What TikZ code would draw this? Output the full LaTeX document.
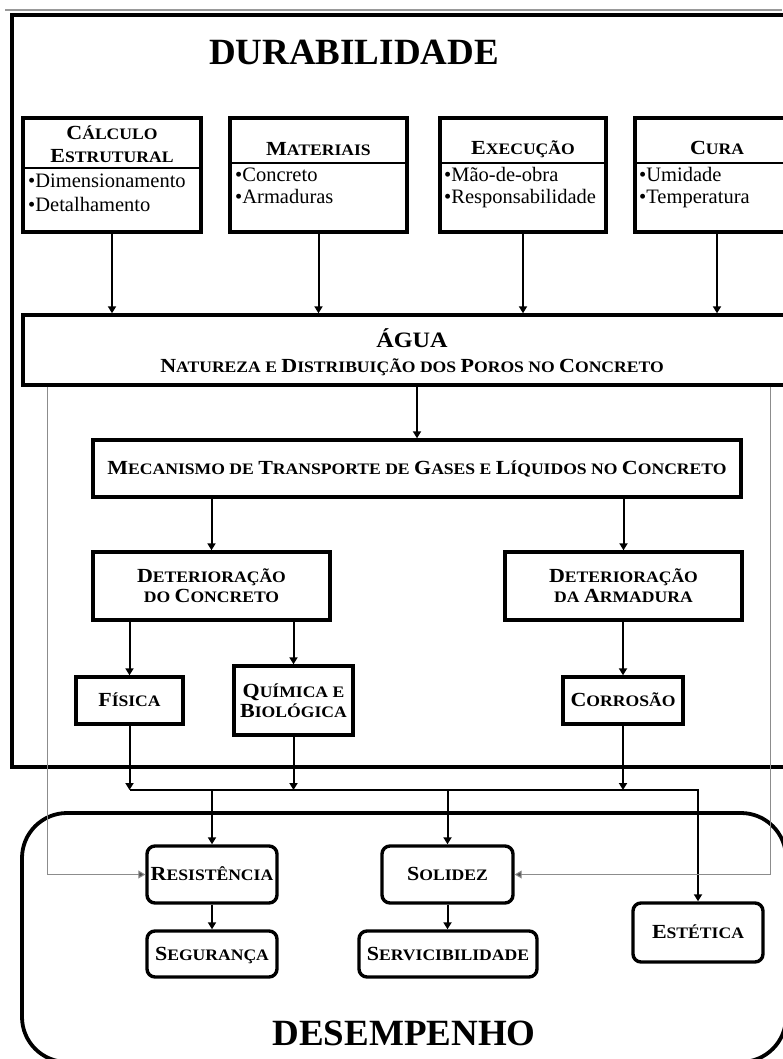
\documentclass[tikz,border=0pt]{standalone}
\usepackage{fontspec}
\setmainfont{Liberation Serif}
\newfontfamily\scb[FakeStretch=1.1]{Liberation Serif}
\usetikzlibrary{arrows.meta}
% larger initial capital for the hand-made small caps
\newcommand\Ini[1]{{\fontsize{20}{20}\selectfont #1}}
\tikzset{
  frame/.style={line width=3.8pt},
  box/.style={draw, line width=3.4pt, inner sep=0pt},
  rbox/.style={box, rounded corners=8pt},
  sctext/.style={inner sep=0pt, font=\scb\bfseries\fontsize{16}{20}\selectfont, align=center},
  lab/.style={sctext, text height=12pt, text depth=0pt},
  item/.style={inner sep=0pt, anchor=base west, font=\fontsize{20.5}{24}\selectfont},
  title/.style={inner sep=0pt, font=\bfseries\fontsize{37}{40}\selectfont},
  rule/.style={line width=2.2pt},
  conn/.style={line width=2pt},
  arr/.style={conn, -{Triangle[length=7pt,width=8pt]}},
  garr/.style={line width=1pt, draw=black!45, -{Triangle[length=7pt,width=8pt,fill=black!70]}},
}
\begin{document}
\begin{tikzpicture}[x=1pt,y=-1pt]
\useasboundingbox (0,0) rectangle (782,1059);
\fill[white] (0,0) rectangle (782,1059);

% outer frames
\draw[black!40, line width=2pt] (5,10) -- (782,10);
\draw[frame] (12,15) rectangle (812,767);
\draw[frame, rounded corners=45pt] (22,813) rectangle (786,1062);
\node[title] (tdur) at (354,52.5) {DURABILIDADE};
\node[title] (tdes) at (404,1033) {DESEMPENHO};

% factor boxes
\node[box, minimum width=178pt, minimum height=114pt] (calc) at (112,175) {};
\node[box, minimum width=177pt, minimum height=114pt] (mat) at (318.5,175) {};
\node[box, minimum width=166pt, minimum height=114pt] (exe) at (523,175) {};
\node[box, minimum width=164pt, minimum height=114pt] (cura) at (717,175) {};
\draw[rule] (calc.west |- 0,168) -- (calc.east |- 0,168);
\draw[rule] (mat.west |- 0,163) -- (mat.east |- 0,163);
\draw[rule] (exe.west |- 0,163) -- (exe.east |- 0,163);
\draw[rule] (cura.west |- 0,163) -- (cura.east |- 0,163);

\node[sctext, anchor=base] (calc-h1) at (112,140) {\Ini{C}ÁLCULO};
\node[sctext, anchor=base] (calc-h2) at (112,163) {\Ini{E}STRUTURAL};
\node[sctext, anchor=base] (mat-h) at (318.5,156) {\Ini{M}ATERIAIS};
\node[sctext, anchor=base] (exe-h) at (523,155) {\Ini{E}XECUÇÃO};
\node[sctext, anchor=base] (cura-h) at (717,155) {\Ini{C}URA};

\node[item] (calc-i1) at (28,188) {•Dimensionamento};
\node[item] (calc-i2) at (28,212) {•Detalhamento};
\node[item] (mat-i1) at (235,182) {•Concreto};
\node[item] (mat-i2) at (235,204) {•Armaduras};
\node[item] (exe-i1) at (444,182) {•Mão-de-obra};
\node[item] (exe-i2) at (444,204) {•Responsabilidade};
\node[item] (cura-i1) at (639,182) {•Umidade};
\node[item] (cura-i2) at (639,204) {•Temperatura};

% water and transport
\node[box, minimum width=778pt, minimum height=70pt] (agua) at (412,350) {};
\node[sctext, anchor=base, font=\scb\bfseries\fontsize{22}{24}\selectfont] (agua-t) at (412,347) {ÁGUA};
\node[sctext, anchor=base] (agua-s) at (412,372) {\Ini{N}ATUREZA E \Ini{D}ISTRIBUIÇÃO DOS \Ini{P}OROS NO \Ini{C}ONCRETO};
\node[box, lab, minimum width=648pt, minimum height=57pt] (mec) at (417,468.5)
  {\Ini{M}ECANISMO DE \Ini{T}RANSPORTE DE \Ini{G}ASES E \Ini{L}ÍQUIDOS NO \Ini{C}ONCRETO};

% deterioration
\node[box, sctext, minimum width=237pt, minimum height=68pt] (detc) at (211.5,586) {\Ini{D}ETERIORAÇÃO\\DO \Ini{C}ONCRETO};
\node[box, sctext, minimum width=237pt, minimum height=68pt] (deta) at (623.5,586) {\Ini{D}ETERIORAÇÃO\\DA \Ini{A}RMADURA};
\node[box, lab, minimum width=107pt, minimum height=47pt] (fis) at (129.5,700.5) {\Ini{F}ÍSICA};
\node[box, sctext, minimum width=119pt, minimum height=69pt] (qui) at (293.5,700.5) {\Ini{Q}UÍMICA E\\\Ini{B}IOLÓGICA};
\node[box, lab, minimum width=120pt, minimum height=47pt] (cor) at (623,700.5) {\Ini{C}ORROSÃO};

% performance
\node[rbox, lab, minimum width=130pt, minimum height=57pt] (res) at (212,874.5) {\Ini{R}ESISTÊNCIA};
\node[rbox, lab, minimum width=131pt, minimum height=57pt] (sol) at (447.5,874.5) {\Ini{S}OLIDEZ};
\node[rbox, lab, minimum width=130pt, minimum height=46pt] (seg) at (212,954) {\Ini{S}EGURANÇA};
\node[rbox, lab, minimum width=178pt, minimum height=46pt] (ser) at (448,954) {\Ini{S}ERVICIBILIDADE};
\node[rbox, lab, minimum width=130pt, minimum height=59pt] (est) at (698,932.5) {\Ini{E}STÉTICA};

% connectors
\draw[arr] (calc.south) -- (calc.south |- agua.north);
\draw[arr] (mat.south) -- (mat.south |- agua.north);
\draw[arr] (exe.south) -- (exe.south |- agua.north);
\draw[arr] (cura.south) -- (cura.south |- agua.north);
\draw[arr] (mec.north |- agua.south) -- (mec.north);
\draw[arr] (detc.north |- mec.south) -- (detc.north);
\draw[arr] (deta.north |- mec.south) -- (deta.north);
\draw[arr] (fis.north |- detc.south) -- (fis.north);
\draw[arr] (qui.north |- detc.south) -- (qui.north);
\draw[arr] (cor.north |- deta.south) -- (cor.north);

\coordinate (bus) at (130,790);
\draw[arr] (fis.south) -- (fis.south |- bus);
\draw[arr] (qui.south) -- (qui.south |- bus);
\draw[arr] (cor.south) -- (cor.south |- bus);
\draw[arr] (fis.south |- bus) -| (est.north);
\draw[arr] (res.north |- bus) -- (res.north);
\draw[arr] (sol.north |- bus) -- (sol.north);
\draw[arr] (res.south) -- (seg.north);
\draw[arr] (sol.south) -- (sol.south |- ser.north);

\draw[garr] (agua.south -| 47,0) |- (res.west);
\draw[garr] (agua.south -| 770,0) |- (sol.east);
\end{tikzpicture}
\end{document}
